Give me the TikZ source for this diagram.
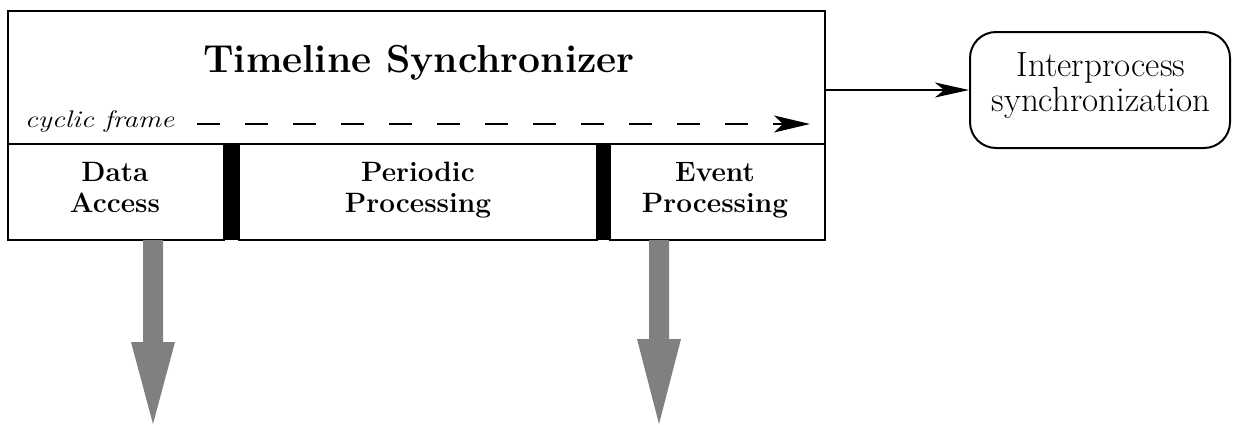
\documentclass[tikz,border=0pt]{standalone}
\usetikzlibrary{arrows.meta,calc}
\begin{document}
\begin{tikzpicture}[x=1pt,y=-1pt,
  frame/.style={draw, line width=2pt, inner sep=0pt},
  bar/.style={fill=black, draw=none, inner sep=0pt},
  celltext/.style={font=\fontsize{28}{31}\selectfont\bfseries, align=center, inner sep=0pt, anchor=north},
  titletext/.style={font=\fontsize{39}{44}\selectfont\bfseries, inner sep=0pt},
  cycletext/.style={font=\fontsize{24}{28}\selectfont\itshape, inner sep=0pt},
  ipcbox/.style={draw, line width=2pt, rounded corners=26pt, inner sep=0pt},
  ipctext/.style={align=center, font=\fontsize{35}{35}\selectfont, inner sep=0pt, anchor=north},
  hatch/.style={fill=black!50, draw=none},
  conn/.style={line width=2pt}]
\useasboundingbox (0,0) rectangle (1233,424);
% main box
\node[frame, minimum width=817pt, minimum height=133pt] (top) at (416.5,77.5) {};
\node[frame, minimum width=216pt, minimum height=96pt] (data) at (116,192) {};
\node[frame, minimum width=358pt, minimum height=96pt] (periodic) at (418,192) {};
\node[frame, minimum width=215pt, minimum height=96pt] (event) at (717.5,192) {};
\node[bar, minimum width=15pt, minimum height=96pt] (bar1) at (231.5,192) {};
\node[bar, minimum width=13pt, minimum height=96pt] (bar2) at (603.5,192) {};
\node[celltext] (datal) at (115,162) {Data\\Access};
\node[celltext] (periodicl) at (418,162) {Periodic\\Processing};
\node[celltext] (eventl) at (715,162) {Event\\Processing};
% texts in top
\node[titletext, anchor=base] (title) at (419,72) {Timeline Synchronizer};
\node[cycletext, anchor=base] (cyc) at (99.5,127) {\scalebox{1.21}[1]{cyclic frame}};
% dashed cyclic arrow
\coordinate (cf1) at (197,124);
\coordinate (cf2) at (810,124);
\draw[conn, dash pattern=on 23pt off 25pt, -{Stealth[length=36pt,width=17pt,inset=9pt]}] (cf1) -- (cf2);
% interprocess box
\node[ipcbox, minimum width=260pt, minimum height=116pt] (ipc) at (1100,90) {};
\node[ipctext] (ipcl) at (1101,52) {Interprocess\\synchronization};
\draw[conn, -{Stealth[length=34pt,width=15pt,inset=9pt]}] (top.east |- ipc.west) -- (ipc.west);
% hatched down arrows
\coordinate (a1) at (153,240);
\coordinate (a2) at (659,240);
\path[hatch] (a1) ++(-10,0) -- ++(0,102) -- ++(-12,0) -- ++(22,82) -- ++(22,-82) -- ++(-12,0) -- ++(0,-102) -- cycle;
\path[hatch] (a2) ++(-10,0) -- ++(0,99) -- ++(-12,0) -- ++(22,85) -- ++(22,-85) -- ++(-12,0) -- ++(0,-99) -- cycle;
\end{tikzpicture}
\end{document}
